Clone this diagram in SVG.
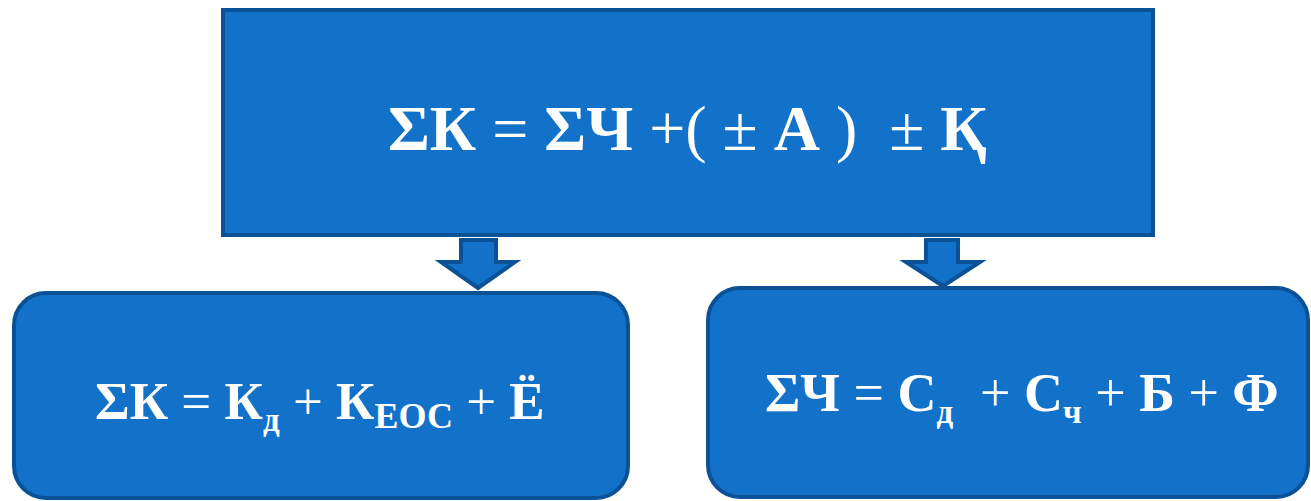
<svg xmlns="http://www.w3.org/2000/svg" width="1311" height="501" viewBox="0 0 1311 501">
<style>
.box{fill:#1271C9;stroke:#0B5196;stroke-width:4}
.arr{fill:#1271C9;stroke:#0B5196;stroke-width:4;stroke-linejoin:miter}
.t{font-family:"Liberation Serif","Times New Roman",serif;font-weight:bold;fill:#ffffff}
.n{font-weight:normal}
</style>
<rect width="1311" height="501" fill="#ffffff"/>
<g id="top">
<rect class="box" x="223" y="10" width="930" height="225"/>
<text class="t" x="388" y="150" font-size="64" xml:space="preserve">ΣК <tspan class="n">=</tspan> ΣЧ <tspan class="n">+(</tspan> <tspan class="n">±</tspan> А <tspan class="n">)</tspan>  <tspan class="n">±</tspan> Қ</text>
</g>
<g id="left">
<rect class="box" x="14" y="293" width="614" height="205" rx="32"/>
<text class="t" x="95" y="419" font-size="53">ΣК <tspan class="n">=</tspan> К<tspan font-size="33" dy="12">д</tspan><tspan dy="-12" class="n"> + </tspan>К<tspan font-size="36" dy="9">ЕОС</tspan><tspan dy="-9" class="n"> + </tspan>Ё</text>
</g>
<g id="right">
<rect class="box" x="708" y="288" width="600" height="209" rx="32"/>
<text class="t" x="765" y="411" font-size="54" xml:space="preserve">ΣЧ <tspan class="n">=</tspan> С<tspan font-size="33" dy="12">д</tspan><tspan dy="-12" class="n">  + </tspan>С<tspan font-size="33" dy="12">ч</tspan><tspan dy="-12" class="n"> + </tspan>Б<tspan class="n"> + </tspan>Ф</text>
</g>
<g id="connectors">
<path class="arr" d="M461 240 H496 V262 H515 L478 288 L441 262 H461 Z"/>
<path class="arr" d="M926 240 H958 V262 H980 L943 286 L906 262 H926 Z"/>
</g>
</svg>
